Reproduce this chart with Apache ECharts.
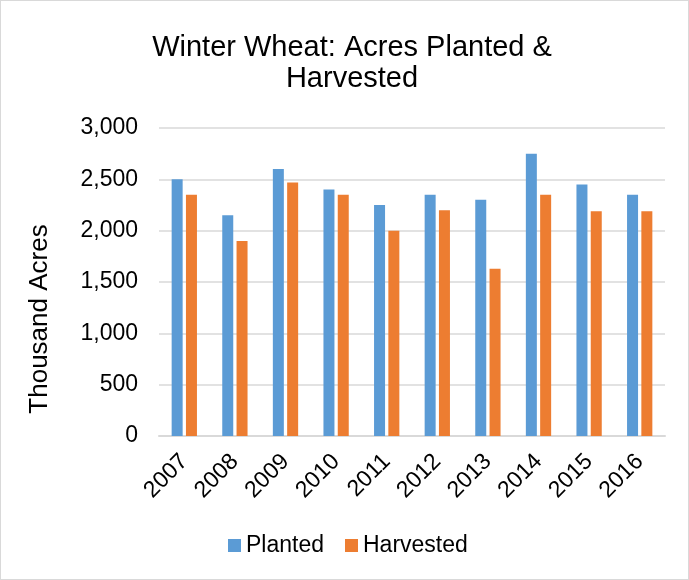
<!DOCTYPE html>
<html>
<head>
<meta charset="utf-8">
<script src="https://cdn.jsdelivr.net/npm/echarts@6/dist/echarts.min.js"></script>
<style>
    html, body { margin: 0; padding: 0; background: #fff; }
    #chart { width: 687px; height: 578px; border: 1px solid #d9d9d9; }
</style>
</head>
<body>
<div id="chart"></div>
<script>
    // 数据
    var years = ['2007', '2008', '2009', '2010', '2011', '2012', '2013', '2014', '2015', '2016'];
    var planted = [2500, 2150, 2600, 2400, 2250, 2350, 2300, 2750, 2450, 2350];
    var harvested = [2350, 1900, 2470, 2350, 2000, 2200, 1630, 2350, 2190, 2190];

    var myChart = echarts.init(document.getElementById('chart'));
    myChart.setOption({
        animation: false,
        title: {
            text: 'Winter Wheat: Acres Planted &\nHarvested',
            left: 351,
            top: 31,
            textAlign: 'center',
            padding: 0,
            textStyle: {
                fontFamily: 'Liberation Sans',
                fontSize: 29,
                fontWeight: 'normal',
                color: '#000',
                lineHeight: 31
            }
        },
        legend: {
            top: 533,
            left: 227,
            padding: 0,
            itemWidth: 13,
            itemHeight: 13,
            itemGap: 21,
            icon: 'rect',
            textStyle: {
                fontFamily: 'Liberation Sans',
                fontSize: 23,
                color: '#000'
            },
            data: ['Planted', 'Harvested']
        },
        grid: {
            left: 158,
            right: 23,
            top: 127,
            bottom: 143
        },
        xAxis: {
            type: 'category',
            data: years,
            axisTick: { show: false },
            axisLine: { lineStyle: { color: '#d9d9d9', width: 2 } },
            axisLabel: {
                rotate: 45,
                margin: 22,
                fontFamily: 'Liberation Sans',
                fontSize: 23,
                color: '#000'
            }
        },
        yAxis: {
            type: 'value',
            min: 0,
            max: 3000,
            interval: 500,
            name: 'Thousand Acres',
            nameLocation: 'middle',
            nameGap: 106,
            nameTextStyle: {
                fontFamily: 'Liberation Sans',
                fontSize: 26,
                color: '#000',
                padding: [0, 74, 0, 0]
            },
            axisLine: { show: false },
            axisTick: { show: false },
            axisLabel: {
                margin: 21,
                fontFamily: 'Liberation Sans',
                fontSize: 23,
                color: '#000',
                formatter: function (v) {
                    return v.toLocaleString('en-US');
                }
            },
            splitLine: { lineStyle: { color: '#d9d9d9', width: 1.5 } }
        },
        series: [
            {
                name: 'Planted',
                type: 'bar',
                data: planted,
                barWidth: 11,
                barGap: '30%',
                itemStyle: { color: '#5b9bd5' }
            },
            {
                name: 'Harvested',
                type: 'bar',
                data: harvested,
                barWidth: 11,
                itemStyle: { color: '#ed7d31' }
            }
        ]
    });
</script>
</body>
</html>
